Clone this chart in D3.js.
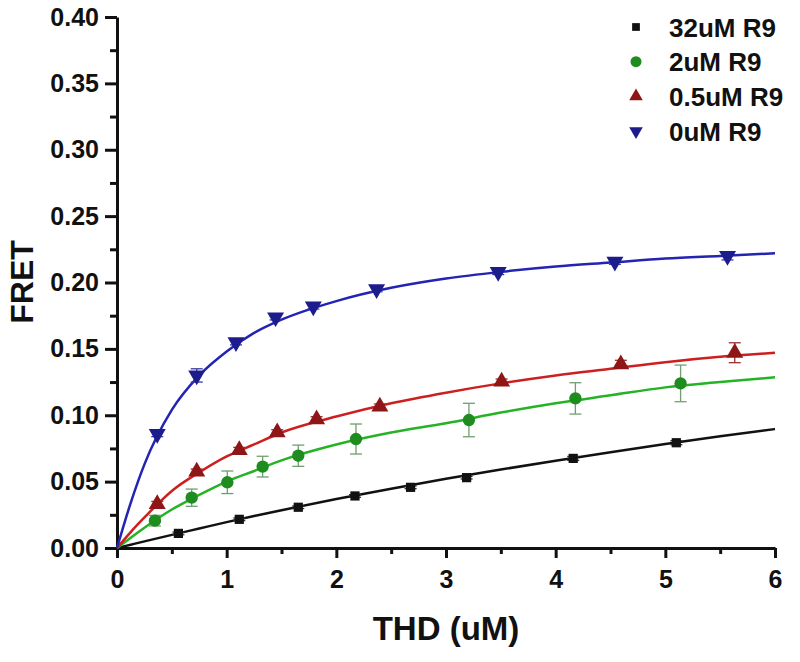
<!DOCTYPE html>
<html>
<head>
<meta charset="utf-8">
<script src="https://cdn.jsdelivr.net/npm/d3@7/dist/d3.min.js"></script>
<style>
  body { margin: 0; background: #fff; }
  svg { display: block; font-family: "Liberation Sans", Arial, sans-serif; font-weight: bold; }
</style>
</head>
<body>
<script>
var names = ['32uM R9', '2uM R9', '0.5uM R9', '0uM R9'];
var colors = ['#111111', '#1e8c1e', '#8e1616', '#1c1c8c'];
var lineColors = ['#111111', '#25b325', '#cc2020', '#2323b4'];
var errColors = ['#333333', '#6f9f6f', '#9a3030', '#3a3aa0'];
var shapes = ['square', 'circle', 'triangle', 'triangledown'];

var xBlack = [0.56, 1.115, 1.653, 2.17, 2.677, 3.188, 4.16, 5.10];
var yBlack = [0.0110, 0.0216, 0.0307, 0.0392, 0.0457, 0.0530, 0.0675, 0.0793];
var eBlack = [0.001, 0.001, 0.001, 0.001, 0.001, 0.001, 0.0015, 0.0015];

var xGreen = [0.346, 0.681, 1.006, 1.328, 1.653, 2.179, 3.209, 4.18, 5.139];
var yGreen = [0.0206, 0.0379, 0.0495, 0.0613, 0.0695, 0.0821, 0.0964, 0.1127, 0.1240];
var eGreen = [0.004, 0.0065, 0.0085, 0.0078, 0.008, 0.0113, 0.0126, 0.0118, 0.0138];

var xRed = [0.367, 0.727, 1.115, 1.461, 1.82, 2.397, 3.507, 4.594, 5.633];
var yRed = [0.0331, 0.0575, 0.0738, 0.0871, 0.0969, 0.1065, 0.1253, 0.1384, 0.1471];
var eRed = [0.002, 0.002, 0.002, 0.002, 0.002, 0.002, 0.002, 0.003, 0.0075];

var xBlue = [0.367, 0.727, 1.085, 1.446, 1.79, 2.367, 3.476, 4.54, 5.567];
var yBlue = [0.0859, 0.1300, 0.1550, 0.1738, 0.1820, 0.1950, 0.2080, 0.2157, 0.2200];
var eBlue = [0.002, 0.005, 0.002, 0.002, 0.002, 0.002, 0.002, 0.002, 0.003];

// fitted curves, sampled off the figure
var fitX = [0, 0.125, 0.25, 0.5, 0.75, 1, 1.25, 1.5, 2, 2.5, 3, 3.5, 4, 4.5, 5, 5.5, 6];
var fitBlack = [0, 0.0025, 0.005, 0.0099, 0.0147, 0.0195, 0.0241, 0.0285, 0.0369, 0.0447, 0.0521, 0.0591, 0.0658, 0.0722, 0.0783, 0.0841, 0.0896];
var fitGreen = [0, 0.0078, 0.0153, 0.029, 0.040, 0.050, 0.058, 0.066, 0.078, 0.087, 0.094, 0.102, 0.109, 0.115, 0.121, 0.125, 0.1286];
var fitRed = [0, 0.012, 0.023, 0.043, 0.057, 0.069, 0.078, 0.087, 0.099, 0.109, 0.117, 0.124, 0.130, 0.135, 0.140, 0.144, 0.147];
var fitBlue = [0, 0.034, 0.063, 0.104, 0.130, 0.148, 0.162, 0.172, 0.186, 0.196, 0.203, 0.208, 0.212, 0.215, 0.218, 0.220, 0.222];

var xTicks = [0, 1, 2, 3, 4, 5, 6];
var yTicks = [0, 0.05, 0.10, 0.15, 0.20, 0.25, 0.30, 0.35, 0.40];

var series = [
  {x: xBlack, y: yBlack, e: eBlack, fit: fitBlack},
  {x: xGreen, y: yGreen, e: eGreen, fit: fitGreen},
  {x: xRed, y: yRed, e: eRed, fit: fitRed},
  {x: xBlue, y: yBlue, e: eBlue, fit: fitBlue}
];

var W = 800, H = 662;
var svg = d3.select('body').append('svg').attr('width', W).attr('height', H);

var x = d3.scaleLinear().domain([0, 6]).range([117, 775]);
var y = d3.scaleLinear().domain([0, 0.4]).range([548, 17]);

// axes: minor ticks first, then the labelled ones
var minorX = d3.range(0.5, 6, 1);
var minorY = d3.range(0.025, 0.4, 0.05);

svg.append('g').attr('transform', 'translate(0,548)')
  .call(d3.axisBottom(x).tickValues(minorX).tickSize(6).tickFormat(''))
  .call(function (g) { g.select('.domain').remove(); });
svg.append('g').attr('transform', 'translate(117,0)')
  .call(d3.axisLeft(y).tickValues(minorY).tickSize(7).tickFormat(''))
  .call(function (g) { g.select('.domain').remove(); });

var gx = svg.append('g').attr('transform', 'translate(0,548)')
  .call(d3.axisBottom(x).tickValues(xTicks).tickSize(10).tickSizeOuter(0).tickPadding(12).tickFormat(d3.format('d')));
var gy = svg.append('g').attr('transform', 'translate(117,0)')
  .call(d3.axisLeft(y).tickValues(yTicks).tickSize(12).tickSizeOuter(0).tickPadding(6).tickFormat(d3.format('.2f')));

svg.selectAll('.tick line').attr('stroke', '#111').attr('stroke-width', 3);
svg.selectAll('.domain').attr('stroke', '#111').attr('stroke-width', 3);
[gx, gy].forEach(function (g) {
  g.selectAll('text').attr('font-size', 25).attr('font-weight', 'bold')
    .attr('font-family', '"Liberation Sans", Arial, sans-serif').attr('fill', '#111');
});

svg.append('text').attr('x', 446).attr('y', 640).attr('text-anchor', 'middle')
  .attr('font-size', 33).attr('fill', '#111').text('THD (uM)');
svg.append('text').attr('transform', 'translate(33,282) rotate(-90)').attr('text-anchor', 'middle')
  .attr('font-size', 32).attr('fill', '#111').text('FRET');

// fit lines
var line = d3.line().curve(d3.curveMonotoneX);
series.forEach(function (s, i) {
  svg.append('path')
    .attr('d', line(fitX.map(function (v, k) { return [x(v), y(s.fit[k])]; })))
    .attr('fill', 'none').attr('stroke', lineColors[i]).attr('stroke-width', 2.5);
});

function symbolFor(shape) {
  if (shape === 'square') return d3.symbol().type(d3.symbolSquare).size(85);
  if (shape === 'circle') return d3.symbol().type(d3.symbolCircle).size(120);
  return d3.symbol().type(d3.symbolTriangle).size(125);
}

// error bars and markers
series.forEach(function (s, i) {
  var g = svg.append('g');
  s.x.forEach(function (v, k) {
    var cx = x(v), y0 = y(s.y[k] - s.e[k]), y1 = y(s.y[k] + s.e[k]);
    g.append('line').attr('x1', cx).attr('x2', cx).attr('y1', y0).attr('y2', y1)
      .attr('stroke', errColors[i]).attr('stroke-width', 1.3);
    [y0, y1].forEach(function (yy) {
      g.append('line').attr('x1', cx - 6).attr('x2', cx + 6).attr('y1', yy).attr('y2', yy)
        .attr('stroke', errColors[i]).attr('stroke-width', 1.3);
    });
    var rot = shapes[i] === 'triangledown' ? ' rotate(180)' : '';
    g.append('path').attr('d', symbolFor(shapes[i])())
      .attr('transform', 'translate(' + cx + ',' + y(s.y[k]) + ')' + rot)
      .attr('fill', colors[i]);
  });
});

// legend
var legend = svg.append('g');
names.forEach(function (n, i) {
  var cy = 27 + i * 34.7;
  var rot = shapes[i] === 'triangledown' ? ' rotate(180)' : '';
  legend.append('path').attr('d', symbolFor(shapes[i]).size(i === 1 ? 95 : (i === 0 ? 60 : 80))())
    .attr('transform', 'translate(636,' + cy + ')' + rot).attr('fill', colors[i]);
  legend.append('text').attr('x', 669).attr('y', cy + 9.5).attr('font-size', 26)
    .attr('fill', '#111').text(n);
});
</script>
</body>
</html>
